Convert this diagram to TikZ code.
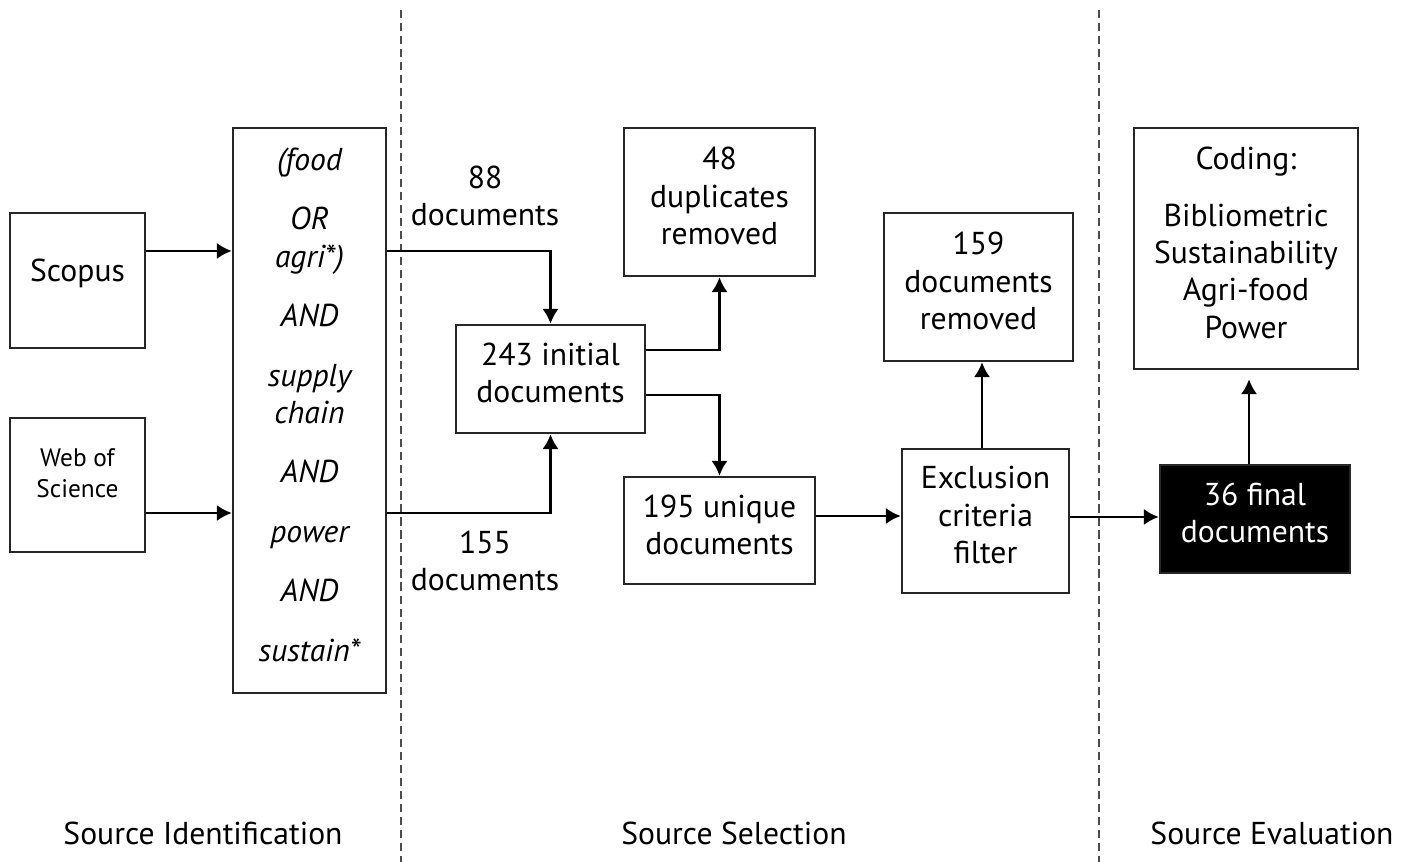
\documentclass[tikz,border=0pt]{standalone}
\usepackage{fontspec}
\setmainfont{PT Sans}
\usetikzlibrary{arrows.meta,positioning,calc}

\begin{document}
\begin{tikzpicture}[x=0.01cm, y=-0.01cm,
    box/.style={draw=black!85, line width=0.7pt, align=center, inner sep=0pt, text depth=3.4pt,
      font=\fontsize{9}{10.6}\selectfont},
    lbl/.style={align=center, inner sep=0pt, font=\fontsize{9}{10.6}\selectfont},
    arr/.style={-{Latex[length=4.2pt,width=4.6pt]}, line width=0.7pt},
    sep/.style={draw=black!70, line width=0.45pt, dash pattern=on 2.3pt off 1.4pt}]
  \useasboundingbox (0,0) rectangle (1409,862);

  % phase separators
  \foreach \x in {401,1099} {
    \draw[sep] (\x,10) -- (\x,862);
  }

  % sources
  \node[box, minimum width=1.35cm, minimum height=1.35cm, text depth=5.9pt] (scopus) at (77.5,280.5) {Scopus};
  \node[box, minimum width=1.35cm, minimum height=1.34cm, text depth=6.8pt,
    font=\fontsize{7.2}{8.6}\selectfont] (wos) at (77.5,485) {Web of\\Science};

  % search string
  \node[box, minimum width=1.53cm, minimum height=5.65cm, font=\fontsize{9}{10.6}\selectfont\itshape] (query) at (309.5,410.5)
    {(food\\[6.3pt] OR\\ agri*)\\[6.3pt] AND\\[6.3pt] supply\\ chain\\[6.3pt] AND\\[6.3pt] power\\[6.3pt] AND\\[6.3pt] sustain*};

  % selection
  \node[box, minimum width=1.89cm, minimum height=1.08cm] (init) at (550.5,379) {243 initial\\documents};
  \node[box, minimum width=1.91cm, minimum height=1.48cm] (dup) at (719.5,202) {48\\duplicates\\removed};
  \node[box, minimum width=1.91cm, minimum height=1.07cm] (uniq) at (719.5,530.5) {195 unique\\documents};
  \node[box, minimum width=1.67cm, minimum height=1.44cm] (excl) at (985.5,521) {Exclusion\\criteria\\filter};
  \node[box, minimum width=1.89cm, minimum height=1.48cm] (rem) at (978.5,287) {159\\documents\\removed};

  % evaluation
  \node[box, fill=black, text=white, minimum width=1.90cm, minimum height=1.08cm] (final) at (1255,519) {36 final\\documents};
  \node[box, minimum width=2.24cm, minimum height=2.41cm] (coding) at (1246,248.5)
    {Coding:\\[5.6pt] Bibliometric\\Sustainability\\Agri-food\\Power};

  % counts
  \node[lbl] (n88) at (485,196) {88\\documents};
  \node[lbl] (n155) at (485,561) {155\\documents};

  % connectors
  \coordinate (s1) at ([yshift=2.95mm]scopus.east);
  \coordinate (w1) at ([yshift=-2.8mm]wos.east);
  \draw[arr] (s1) -- (s1 -| query.west);
  \draw[arr] (w1) -- (w1 -| query.west);
  \draw[arr] (query.east |- s1) -| (init.north);
  \draw[arr] (query.east |- w1) -| (init.south);
  \coordinate (i1) at ([yshift=2.9mm]init.east);
  \coordinate (i2) at ([yshift=-1.6mm]init.east);
  \draw[arr] (i1) -| (dup.south);
  \draw[arr] (i2) -| (uniq.north);
  \coordinate (u1) at ([yshift=1.45mm]uniq.east);
  \draw[arr] (u1) -- (u1 -| excl.west);
  \draw[arr] ([xshift=-0.35mm]excl.north) -- ([xshift=-0.35mm]excl.north |- rem.south);
  \coordinate (e1) at ([yshift=0.4mm]excl.east);
  \draw[arr] (e1) -- (e1 -| final.west);
  \draw[arr, shorten >=0.9mm] ([xshift=-0.6mm]final.north) -- ([xshift=-0.6mm]final.north |- coding.south);

  % phase names
  \node[lbl] (sid) at (203,833) {Source Identification};
  \node[lbl] (ssel) at (734,833) {Source Selection};
  \node[lbl] (seval) at (1272,833) {Source Evaluation};
\end{tikzpicture}
\end{document}
